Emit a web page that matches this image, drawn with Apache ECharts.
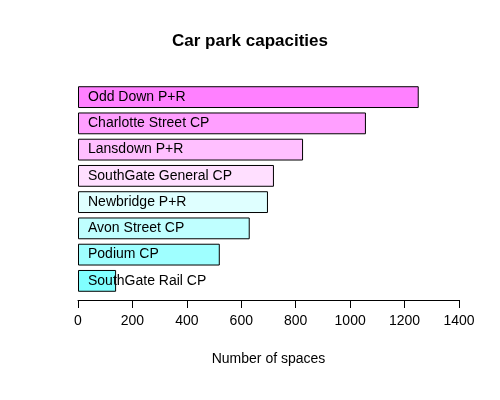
<!DOCTYPE html>
<html>
<head>
<meta charset="utf-8">
<script src="https://cdn.jsdelivr.net/npm/echarts@6/dist/echarts.min.js"></script>
<style>html,body{margin:0;background:#fff}#chart{width:500px;height:400px}</style>
</head>
<body>
<div id="chart"></div>
<script>
// bottom to top
const carParks = ['SouthGate Rail CP', 'Podium CP', 'Avon Street CP', 'Newbridge P+R',
    'SouthGate General CP', 'Lansdown P+R', 'Charlotte Street CP', 'Odd Down P+R']
const spaces = [140, 521, 631, 698, 720, 827, 1058, 1252]
const colors = ['#80FFFF', '#9FFFFF', '#BFFFFF', '#DFFFFF', '#FFDFFF', '#FFBFFF', '#FF9FFF', '#FF80FF']
const xTicks = [0, 200, 400, 600, 800, 1000, 1200, 1400]

let myChart = echarts.init(document.getElementById('chart'))
let option = {
    animation: false,
    textStyle: { fontFamily: 'Liberation Sans, Arial, sans-serif' },
    title: {
        text: 'Car park capacities',
        left: 'center',
        top: 28,
        textStyle: { fontSize: 17, fontWeight: 'bold', color: '#000' }
    },
    grid: { left: 78, right: 41, top: 84, bottom: 106 },
    xAxis: {
        type: 'value',
        min: 0,
        max: 1400,
        interval: 200,
        offset: 6,
        name: 'Number of spaces',
        nameLocation: 'middle',
        nameGap: 52,
        nameTextStyle: { fontSize: 14, color: '#000' },
        axisLine: { show: true, lineStyle: { color: '#000' } },
        axisTick: { show: true, length: 8, lineStyle: { color: '#000' } },
        axisLabel: { fontSize: 14, color: '#000', margin: 14,
            formatter: v => xTicks.includes(v) ? String(v) : '' },
        splitLine: { show: false }
    },
    yAxis: {
        type: 'category',
        data: carParks,
        axisLine: { show: false },
        axisTick: { show: false },
        axisLabel: { show: false }
    },
    series: [{
        type: 'bar',
        barCategoryGap: '17%',
        data: spaces.map((v, i) => ({ value: v, itemStyle: { color: colors[i] } })),
        itemStyle: { borderColor: '#000', borderWidth: 1 },
        label: {
            show: true,
            position: 'insideLeft',
            offset: [0, 0],
            distance: 10,
            formatter: p => carParks[p.dataIndex],
            fontSize: 14,
            color: '#000'
        },
        labelLayout: { hideOverlap: false }
    }]
}
option && myChart.setOption(option)
</script>
</body>
</html>
